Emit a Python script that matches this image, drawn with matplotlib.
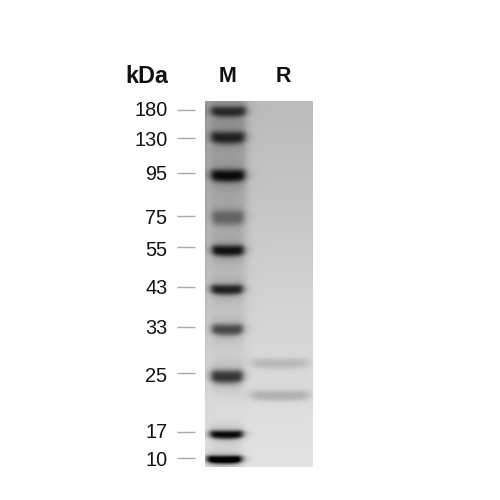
import numpy as np
import matplotlib
matplotlib.use("Agg")
import matplotlib.pyplot as plt

plt.rcParams['font.family'] = ['Liberation Sans', 'DejaVu Sans']

# Data
marker_labels = ['180', '130', '95', '75', '55', '43', '33', '25', '17', '10']
tick_y = [110, 138, 173, 216, 247, 287, 327, 373, 432, 458]
label_y = [111, 140, 175, 218, 250, 288, 329, 376, 433, 461]
marker_band_y = [111, 137, 175, 217, 250, 289, 329, 376, 434, 459]
marker_band_dark = [95, 105, 130, 62, 135, 130, 105, 130, 175, 205]
marker_band_sy = [5.5, 6.5, 6.5, 8.0, 5.8, 5.4, 6.0, 7.0, 4.4, 4.2]
marker_band_x0 = [211, 211, 211, 212, 212, 211, 212, 211, 210, 207]
marker_band_x1 = [246, 245, 245, 244, 244, 243, 243, 243, 243, 242]
sample_band_y = [363, 395]
sample_band_dark = [29, 39]
sample_band_x0 = [252, 251]
sample_band_x1 = [308, 309]
gel_x = [205, 313]
gel_y = [101, 467]
bg_profile_y = [101, 200, 300, 400, 467]
bg_profile_v = [186, 197, 210, 221, 226]
headers = ['kDa', 'M', 'R']
header_x = [147, 228, 283]
header_size = [16.8, 15.5, 15.5]


def add_band(img, X, Y, y0, x0, x1, sy, dark, smear=0.0):
    xc = (x0 + x1) / 2
    hw = (x1 - x0) / 2
    u = (X - xc) / hw
    prof = 1 / (1 + np.abs(u) ** 8)
    sy_local = sy * (1 - 0.12 * u ** 2).clip(0.5)
    yc = y0 + 0.8 * (1 - u ** 2).clip(0)
    d = np.abs(Y - yc) / sy_local
    img -= dark * prof * np.exp(-d ** 2.6)
    img -= smear * dark * prof * np.exp(-(d / 2.2) ** 2)


xs = np.arange(gel_x[0], gel_x[1]) + 0.5
ys = np.arange(gel_y[0], gel_y[1]) + 0.5
X, Y = np.meshgrid(xs, ys)
gel = np.interp(Y, bg_profile_y, bg_profile_v)

# darker marker lane and left edge
lane_x0, lane_x1 = marker_band_x0[0] - 3, marker_band_x1[0] + 1
lane = 1 / (1 + ((X - (lane_x0 + lane_x1) / 2) / ((lane_x1 - lane_x0) / 2)) ** 8)
gel -= 22 * lane * np.interp(Y, bg_profile_y, [1.4, 1.2, 0.7, 0.15, 0.0])
gel -= 30 * np.exp(-(X - gel_x[0]) / 3) * np.interp(Y, bg_profile_y, [1.2, 1.0, 0.7, 0.3, 0.1])

for i in range(len(marker_band_y)):
    add_band(gel, X, Y, marker_band_y[i], marker_band_x0[i], marker_band_x1[i],
             marker_band_sy[i], marker_band_dark[i], smear=0.22)
for i in range(len(sample_band_y)):
    add_band(gel, X, Y, sample_band_y[i], sample_band_x0[i], sample_band_x1[i],
             5.5, sample_band_dark[i], smear=0.12)
gel = np.clip(gel, 0, 255)

fig = plt.figure(figsize=(5, 5), dpi=100)
ax = fig.add_axes([0, 0, 1, 1])
ax.axis('off')
ax.imshow(gel, cmap='gray', vmin=0, vmax=255, aspect='auto', interpolation='bilinear',
          extent=(gel_x[0], gel_x[1], gel_y[1], gel_y[0]))
ax.set_xlim(0, 500)
ax.set_ylim(500, 0)

for lab, y, ly in zip(marker_labels, tick_y, label_y):
    ax.plot([177, 195], [y, y], color='#aaaaaa', lw=1.0, solid_capstyle='butt')
    ax.text(167.5, ly, lab, ha='right', va='center', fontsize=14.3, color='#111111')

for lab, x, s in zip(headers, header_x, header_size):
    ax.text(x, 76.5, lab, ha='center', va='center', fontsize=s, fontweight='bold', color='#111111')

fig.savefig('out.png', dpi=100)
